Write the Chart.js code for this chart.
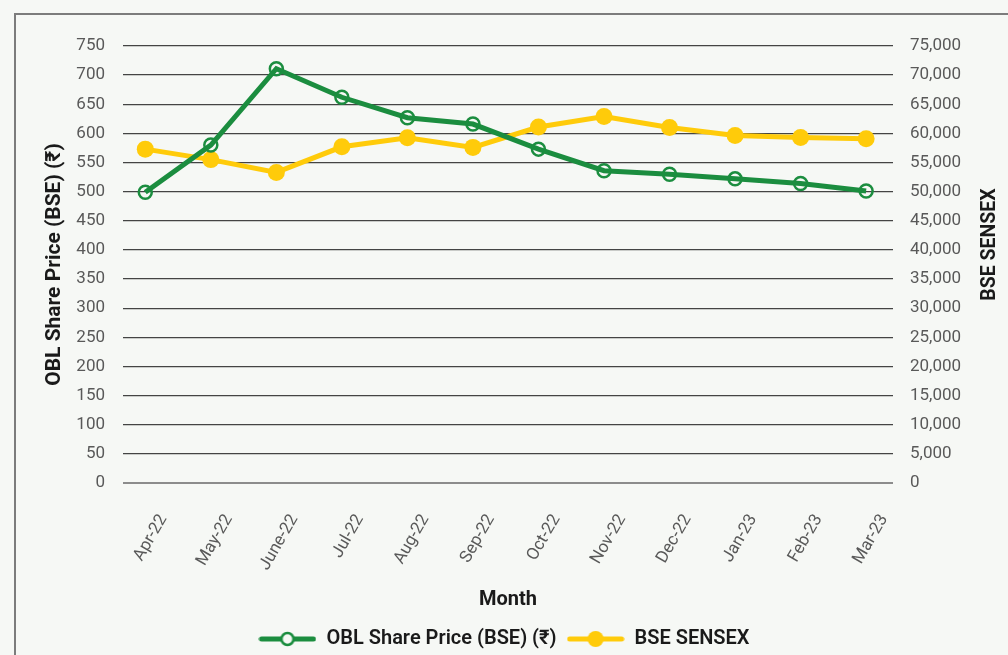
<!DOCTYPE html>
<html>
<head>
<meta charset="utf-8">
<script src="https://cdn.jsdelivr.net/npm/chart.js@4"></script>
<style>
  html, body { margin: 0; padding: 0; background: #f6f8f5; }
  body { width: 1008px; height: 655px; position: relative; overflow: hidden; }
  #frame {
    position: absolute; left: 14px; top: 13px; width: 1100px; height: 700px;
    border-top: 2px solid #7c7c7c; border-left: 2px solid #7c7c7c;
  }
  #wrap { position: absolute; left: 0; top: 0; width: 1008px; height: 655px; }
</style>
</head>
<body>
<div id="frame"></div>
<div id="wrap"><canvas id="chart"></canvas></div>
<script>
/* ================= DATA ================= */
const months = ["Apr-22", "May-22", "June-22", "Jul-22", "Aug-22", "Sep-22",
                "Oct-22", "Nov-22", "Dec-22", "Jan-23", "Feb-23", "Mar-23"];
const oblPrice = [499, 580, 711, 662, 627, 616, 573, 536, 530, 522, 514, 501];
const sensex = [57300, 55500, 53300, 57700, 59250, 57600, 61100, 62900, 61000, 59650, 59300, 59100];

const oblLabel = "OBL Share Price (BSE) (₹)";
const sensexLabel = "BSE SENSEX";
const leftTitle = "OBL Share Price (BSE) (₹)";
const rightTitle = "BSE SENSEX";
const xTitle = "Month";

/* ================= STYLE ================= */
const GREEN = "#1b8d3f";
const YELLOW = "#ffcb0a";
const FONT = "Roboto, 'Noto Sans', 'DejaVu Sans', sans-serif";

// legend swatch: line with marker, like the spreadsheet legend
function swatch(color, hollow) {
    const c = document.createElement("canvas");
    c.width = 58; c.height = 18;
    const g = c.getContext("2d");
    g.strokeStyle = color;
    g.lineWidth = 5;
    g.lineCap = "round";
    g.beginPath(); g.moveTo(3, 9); g.lineTo(55, 9); g.stroke();
    g.beginPath(); g.arc(29, 9, hollow ? 6 : 8, 0, Math.PI * 2);
    if (hollow) {
        g.fillStyle = "#f6f8f5"; g.fill();
        g.lineWidth = 2.5; g.stroke();
    } else {
        g.fillStyle = color; g.fill();
    }
    return c;
}

// right axis title reads bottom-to-top, so draw it ourselves
const rightTitlePlugin = {
    id: "rightTitle",
    afterDraw(chart) {
        const { ctx, chartArea } = chart;
        ctx.save();
        ctx.translate(990, (chartArea.top + chartArea.bottom) / 2 - 20);
        ctx.rotate(-Math.PI / 2);
        ctx.font = "bold 19.5px " + FONT;
        ctx.fillStyle = "#1a1a1a";
        ctx.textAlign = "center";
        ctx.textBaseline = "middle";
        ctx.fillText(rightTitle, 0, 0);
        ctx.restore();
    }
};

/* ================= CHART ================= */
const ctx = document.getElementById("chart").getContext("2d");
const chart = new Chart(ctx, {
    type: "line",
    data: {
        datasets: [
            {
                label: oblLabel,
                data: oblPrice.map((v, i) => ({ x: i, y: v })),
                yAxisID: "y",
                borderColor: GREEN,
                borderWidth: 5,
                pointRadius: 6.5,
                pointBorderWidth: 2.5,
                pointBackgroundColor: "rgba(0,0,0,0)",
                pointBorderColor: GREEN,
                pointStyle: "circle",
                tension: 0
            },
            {
                label: sensexLabel,
                data: sensex.map((v, i) => ({ x: i, y: v })),
                yAxisID: "y1",
                borderColor: YELLOW,
                borderWidth: 5,
                pointRadius: 8.5,
                pointBorderWidth: 0,
                pointBackgroundColor: YELLOW,
                pointBorderColor: YELLOW,
                tension: 0
            }
        ]
    },
    options: {
        responsive: true,
        maintainAspectRatio: false,
        animation: false,
        layout: { padding: { left: 0, top: 46, right: 0, bottom: -4 } },
        scales: {
            x: {
                type: "linear",
                min: -0.34,
                max: 11.41,
                afterBuildTicks: s => { s.ticks = months.map((m, i) => ({ value: i })); },
                afterFit: s => { s.height = 136; },
                grid: { display: false },
                border: { display: false },
                ticks: {
                    autoSkip: false,
                    minRotation: 60,
                    maxRotation: 60,
                    padding: 20,
                    labelOffset: 18,
                    color: "#595959",
                    font: { family: FONT, size: 17 },
                    callback: v => months[v]
                },
                title: {
                    display: true,
                    text: xTitle,
                    color: "#1a1a1a",
                    font: { family: FONT, size: 20, weight: "bold" },
                    padding: { top: 4, bottom: 7 }
                }
            },
            y: {
                position: "left",
                min: 0,
                max: 750,
                afterFit: s => { s.width = 123; },
                ticks: {
                    stepSize: 50,
                    padding: 18,
                    color: "#595959",
                    font: { family: FONT, size: 17 }
                },
                grid: {
                    drawTicks: false,
                    lineWidth: c => c.tick.value === 0 ? 2 : 1.3,
                    color: c => c.tick.value === 0 ? "#8c8c8c" : "#444444"
                },
                border: { display: false },
                title: {
                    display: true,
                    text: leftTitle,
                    color: "#1a1a1a",
                    font: { family: FONT, size: 21, weight: "bold" },
                    padding: { top: 42, bottom: 0 }
                }
            },
            y1: {
                position: "right",
                min: 0,
                max: 75000,
                afterFit: s => { s.width = 115; },
                ticks: {
                    stepSize: 5000,
                    padding: 17,
                    color: "#595959",
                    font: { family: FONT, size: 17 },
                    callback: v => v.toLocaleString("en-US")
                },
                grid: { display: false, drawTicks: false },
                border: { display: false }
            }
        },
        plugins: {
            legend: {
                position: "bottom",
                labels: {
                    usePointStyle: true,
                    pointStyleWidth: 58,
                    boxHeight: 18,
                    padding: 10,
                    color: "#1a1a1a",
                    font: { family: FONT, size: 20, weight: "600" },
                    generateLabels: ch => ch.data.datasets.map((d, i) => ({
                        text: d.label,
                        pointStyle: swatch(d.borderColor, i === 0),
                        fillStyle: d.borderColor,
                        strokeStyle: d.borderColor,
                        lineWidth: 0,
                        hidden: false,
                        datasetIndex: i,
                        fontColor: "#1a1a1a"
                    }))
                }
            },
            tooltip: { enabled: false }
        }
    },
    plugins: [rightTitlePlugin]
});
</script>
</body>
</html>
